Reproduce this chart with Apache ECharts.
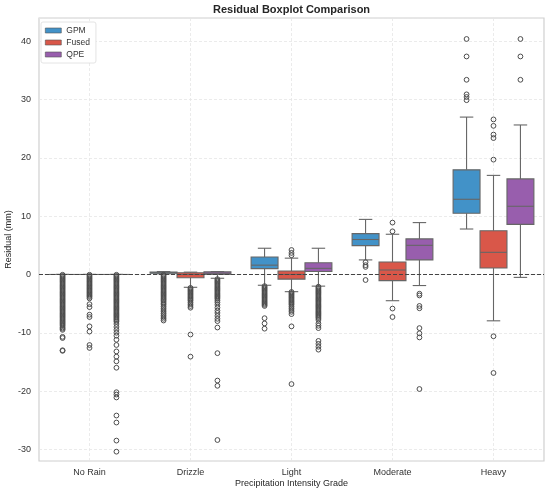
<!DOCTYPE html>
<html>
<head>
<meta charset="utf-8">
<script src="https://cdn.jsdelivr.net/npm/echarts@6/dist/echarts.min.js"></script>
<style>
  html, body { margin: 0; padding: 0; background: #fff; }
  #residualChart { width: 550px; height: 494px; }
</style>
</head>
<body>
<div id="residualChart"></div>
<script>
// categories on the x axis
const categories = ['No Rain', 'Drizzle', 'Light', 'Moderate', 'Heavy'];
const sources = ['GPM', 'Fused', 'QPE'];
const colors = ['#4292c8', '#d95749', '#985ead'];

// box stats per category: [lower whisker, Q1, median, Q3, upper whisker]
const gpmBox = [
    [0, 0, 0, 0, 0],
    [0.1, 0.2, 0.3, 0.43, 0.5],
    [-1.85, 1.0, 1.6, 3.0, 4.5],
    [2.5, 4.95, 6.0, 7.0, 9.45],
    [7.8, 10.5, 12.9, 17.95, 27.0]
];
const fusedBox = [
    [0, 0, 0, 0, 0],
    [-2.2, -0.55, 0, 0.3, 0.4],
    [-2.95, -0.8, 0, 0.6, 2.8],
    [-4.5, -1.05, 0.77, 2.15, 6.9],
    [-7.95, 1.1, 3.8, 7.5, 17.0]
];
const qpeBox = [
    [0, 0, 0, 0, 0],
    [-0.65, 0, 0.2, 0.45, 0.5],
    [-2.0, 0.5, 1.05, 2.0, 4.5],
    [-1.9, 2.5, 5.0, 6.1, 8.9],
    [-0.5, 8.6, 11.7, 16.4, 25.65]
];

// outliers per category
const gpmOutliers = [
    [-0.05, -0.25, -0.45, -0.65, -0.85, -1.05, -1.25, -1.45, -1.65, -1.85, -2.05, -2.25, -2.45, -2.65, -2.85,
     -3.05, -3.25, -3.45, -3.65, -3.85, -4.05, -4.25, -4.45, -4.65, -4.85, -5.05, -5.25, -5.45, -5.65, -5.85,
     -6.05, -6.25, -6.45, -6.65, -6.85, -7.05, -7.25, -7.45, -7.65, -7.85, -8.05, -8.25, -8.45, -8.65, -8.85,
     -9.1, -9.3, -9.5, -10.7, -10.9, -13.0, -13.1],
    [-0.05, -0.25, -0.45, -0.65, -0.85, -1.05, -1.25, -1.45, -1.65, -1.85, -2.05, -2.25, -2.45, -2.65, -2.85,
     -3.05, -3.25, -3.45, -3.65, -3.85, -4.05, -4.25, -4.45, -4.7, -4.95, -5.2, -5.5, -5.8, -6.1, -6.4, -6.7,
     -7.0, -7.3, -7.6, -7.9],
    [-2.0, -2.2, -2.4, -2.6, -2.8, -3.0, -3.2, -3.4, -3.6, -3.8, -4.0, -4.2, -4.4, -4.6, -4.8, -5.0, -5.2, -5.4,
     -7.5, -8.4, -9.3],
    [2.1, 1.6, 1.3, -0.95],
    [40.4, 37.4, 33.4, 30.9, 30.45, 29.9]
];
const fusedOutliers = [
    [-0.05, -0.25, -0.45, -0.65, -0.85, -1.05, -1.25, -1.45, -1.65, -1.85, -2.05, -2.25, -2.45, -2.65, -2.85,
     -3.05, -3.25, -3.45, -3.65, -3.85, -4.1, -5.1, -5.6, -6.9, -7.3, -8.9, -9.8, -12.1, -12.6],
    [-2.3, -2.5, -2.7, -2.9, -3.1, -3.3, -3.5, -3.7, -3.9, -4.1, -4.3, -4.5, -4.8, -5.1, -5.4, -5.7, -10.3, -14.1],
    [3.3, 3.7, 4.2, -3.0, -3.2, -3.4, -3.6, -3.8, -4.0, -4.2, -4.4, -4.6, -4.8, -5.0, -5.2, -5.5, -5.8, -6.1,
     -6.4, -6.8, -8.9, -18.8],
    [8.9, 7.4, -5.85, -7.3],
    [26.6, 25.5, 24.0, 23.4, 19.7, -10.6, -16.9]
];
const qpeOutliers = [
    [-0.05, -0.25, -0.45, -0.65, -0.85, -1.05, -1.25, -1.45, -1.65, -1.85, -2.05, -2.25, -2.45, -2.65, -2.85,
     -3.05, -3.25, -3.45, -3.65, -3.85, -4.05, -4.25, -4.45, -4.65, -4.85, -5.05, -5.25, -5.45, -5.65, -5.85,
     -6.05, -6.25, -6.45, -6.65, -6.85, -7.05, -7.25, -7.45, -7.65, -7.85, -8.1, -8.5, -9.0, -9.5, -10.0, -10.5,
     -11.2, -12.1, -13.2, -14.1, -14.9, -16.0, -20.2, -20.6, -21.1, -24.2, -25.4, -28.5, -30.4],
    [-0.8, -1.0, -1.2, -1.4, -1.6, -1.8, -2.0, -2.2, -2.4, -2.6, -2.8, -3.0, -3.2, -3.4, -3.6, -3.8, -4.0, -4.2,
     -4.5, -4.8, -5.2, -5.7, -6.2, -6.6, -7.1, -7.6, -8.0, -9.1, -13.5, -18.2, -19.1, -28.4],
    [-2.1, -2.3, -2.5, -2.7, -2.9, -3.1, -3.3, -3.5, -3.7, -3.9, -4.1, -4.3, -4.5, -4.7, -4.9, -5.1, -5.3, -5.5,
     -5.7, -5.9, -6.1, -6.3, -6.5, -6.7, -6.9, -7.1, -7.3, -7.5, -7.8, -8.4, -8.8, -9.2, -11.4, -11.9, -12.4,
     -12.9],
    [-3.3, -3.6, -5.4, -5.8, -9.2, -10.1, -10.8, -19.65],
    [40.4, 37.4, 33.4]
];

const boxSets = [gpmBox, fusedBox, qpeBox];
const outlierSets = [gpmOutliers, fusedOutliers, qpeOutliers];
const offsets = [-0.8 / 3, 0, 0.8 / 3];

const lineGrey = '#666666';
const fontFam = '"Liberation Sans", Arial, sans-serif';

// box + whiskers
function makeBoxRenderer(offset, color) {
    return function (params, api) {
        const idx = api.value(0);
        const band = api.size([1, 0])[0];
        const w = band * 0.8 / 3;
        const cx = api.coord([idx, 0])[0] + offset * band;
        const yLow = api.coord([idx, api.value(1)])[1];
        const yQ1 = api.coord([idx, api.value(2)])[1];
        const yMed = api.coord([idx, api.value(3)])[1];
        const yQ3 = api.coord([idx, api.value(4)])[1];
        const yHigh = api.coord([idx, api.value(5)])[1];
        const st = {stroke: lineGrey, lineWidth: 1.1, fill: null};
        return {
            type: 'group',
            children: [
                {type: 'line', shape: {x1: cx, y1: yQ1, x2: cx, y2: yLow}, style: st},
                {type: 'line', shape: {x1: cx, y1: yQ3, x2: cx, y2: yHigh}, style: st},
                {type: 'line', shape: {x1: cx - w / 4, y1: yLow, x2: cx + w / 4, y2: yLow}, style: st},
                {type: 'line', shape: {x1: cx - w / 4, y1: yHigh, x2: cx + w / 4, y2: yHigh}, style: st},
                {
                    type: 'rect',
                    shape: {x: cx - w / 2, y: yQ3, width: w, height: yQ1 - yQ3},
                    style: {fill: color, stroke: lineGrey, lineWidth: 1.1}
                },
                {type: 'line', shape: {x1: cx - w / 2, y1: yMed, x2: cx + w / 2, y2: yMed}, style: st}
            ]
        };
    };
}

function makeOutlierRenderer(offset) {
    return function (params, api) {
        const idx = api.value(0);
        const band = api.size([1, 0])[0];
        const p = api.coord([idx, api.value(1)]);
        return {
            type: 'circle',
            shape: {cx: p[0] + offset * band, cy: p[1], r: 2.4},
            style: {fill: 'rgba(255,255,255,0)', stroke: '#4d4d4d', lineWidth: 1.0}
        };
    };
}

let chart = echarts.init(document.getElementById('residualChart'));

let series = [];
sources.forEach(function (name, s) {
    series.push({
        name: name,
        type: 'custom',
        z: 2,
        itemStyle: {color: colors[s]},
        renderItem: makeBoxRenderer(offsets[s], colors[s]),
        encode: {x: 0, y: [1, 2, 3, 4, 5]},
        data: boxSets[s].map(function (b, i) {
            return [i].concat(b);
        })
    });
    let pts = [];
    outlierSets[s].forEach(function (list, i) {
        list.forEach(function (v) {
            pts.push([i, v]);
        });
    });
    series.push({
        name: name,
        type: 'custom',
        z: 3,
        itemStyle: {color: colors[s]},
        renderItem: makeOutlierRenderer(offsets[s]),
        encode: {x: 0, y: 1},
        data: pts
    });
});

// zero reference line
series.push({
    name: 'zero',
    type: 'line',
    z: 10,
    data: [],
    markLine: {
        silent: true,
        symbol: 'none',
        label: {show: false},
        lineStyle: {color: '#444444', type: [4, 2], width: 1.2},
        data: [{yAxis: 0}]
    }
});

let option = {
    backgroundColor: '#ffffff',
    animation: false,
    title: {
        text: 'Residual Boxplot Comparison',
        left: 213,
        top: 4,
        padding: 0,
        textStyle: {fontFamily: fontFam, fontSize: 11, fontWeight: 'bold', color: '#262626'}
    },
    legend: {
        data: sources,
        orient: 'vertical',
        left: 41,
        top: 22,
        icon: 'rect',
        itemWidth: 16,
        itemHeight: 5,
        itemGap: 3,
        padding: [4, 6, 4, 4],
        borderColor: '#dddddd',
        borderWidth: 0.8,
        borderRadius: 2,
        backgroundColor: '#ffffff',
        itemStyle: {borderColor: '#555555', borderWidth: 0.6},
        textStyle: {fontFamily: fontFam, fontSize: 8.5, color: '#333333'}
    },
    grid: {
        left: 39,
        right: 6,
        top: 18,
        bottom: 33,
        show: true,
        borderColor: '#d0d0d0',
        borderWidth: 1.2,
        containLabel: false,
        outerBoundsMode: 'none'
    },
    xAxis: {
        type: 'category',
        data: categories,
        name: 'Precipitation Intensity Grade',
        nameLocation: 'middle',
        nameGap: 18,
        nameMoveOverlap: false,
        nameTextStyle: {fontFamily: fontFam, fontSize: 9, color: '#262626'},
        axisLine: {show: false},
        axisTick: {show: false, alignWithLabel: true},
        axisLabel: {fontFamily: fontFam, fontSize: 9, color: '#333333', margin: 7},
        splitLine: {show: true, alignWithLabel: true, lineStyle: {color: '#e6e6e6', type: [3, 2], width: 0.8}}
    },
    yAxis: {
        type: 'value',
        min: -32,
        max: 44,
        splitNumber: 8,
        name: 'Residual (mm)',
        nameLocation: 'middle',
        nameGap: 26,
        nameMoveOverlap: false,
        nameTextStyle: {fontFamily: fontFam, fontSize: 9, color: '#262626'},
        axisLine: {show: false},
        axisTick: {show: false},
        axisLabel: {
            fontFamily: fontFam, fontSize: 9, color: '#333333', margin: 8,
            showMinLabel: false, showMaxLabel: false
        },
        splitLine: {show: true, lineStyle: {color: '#e6e6e6', type: [3, 2], width: 0.8}}
    },
    series: series
};

chart.setOption(option);
</script>
</body>
</html>
